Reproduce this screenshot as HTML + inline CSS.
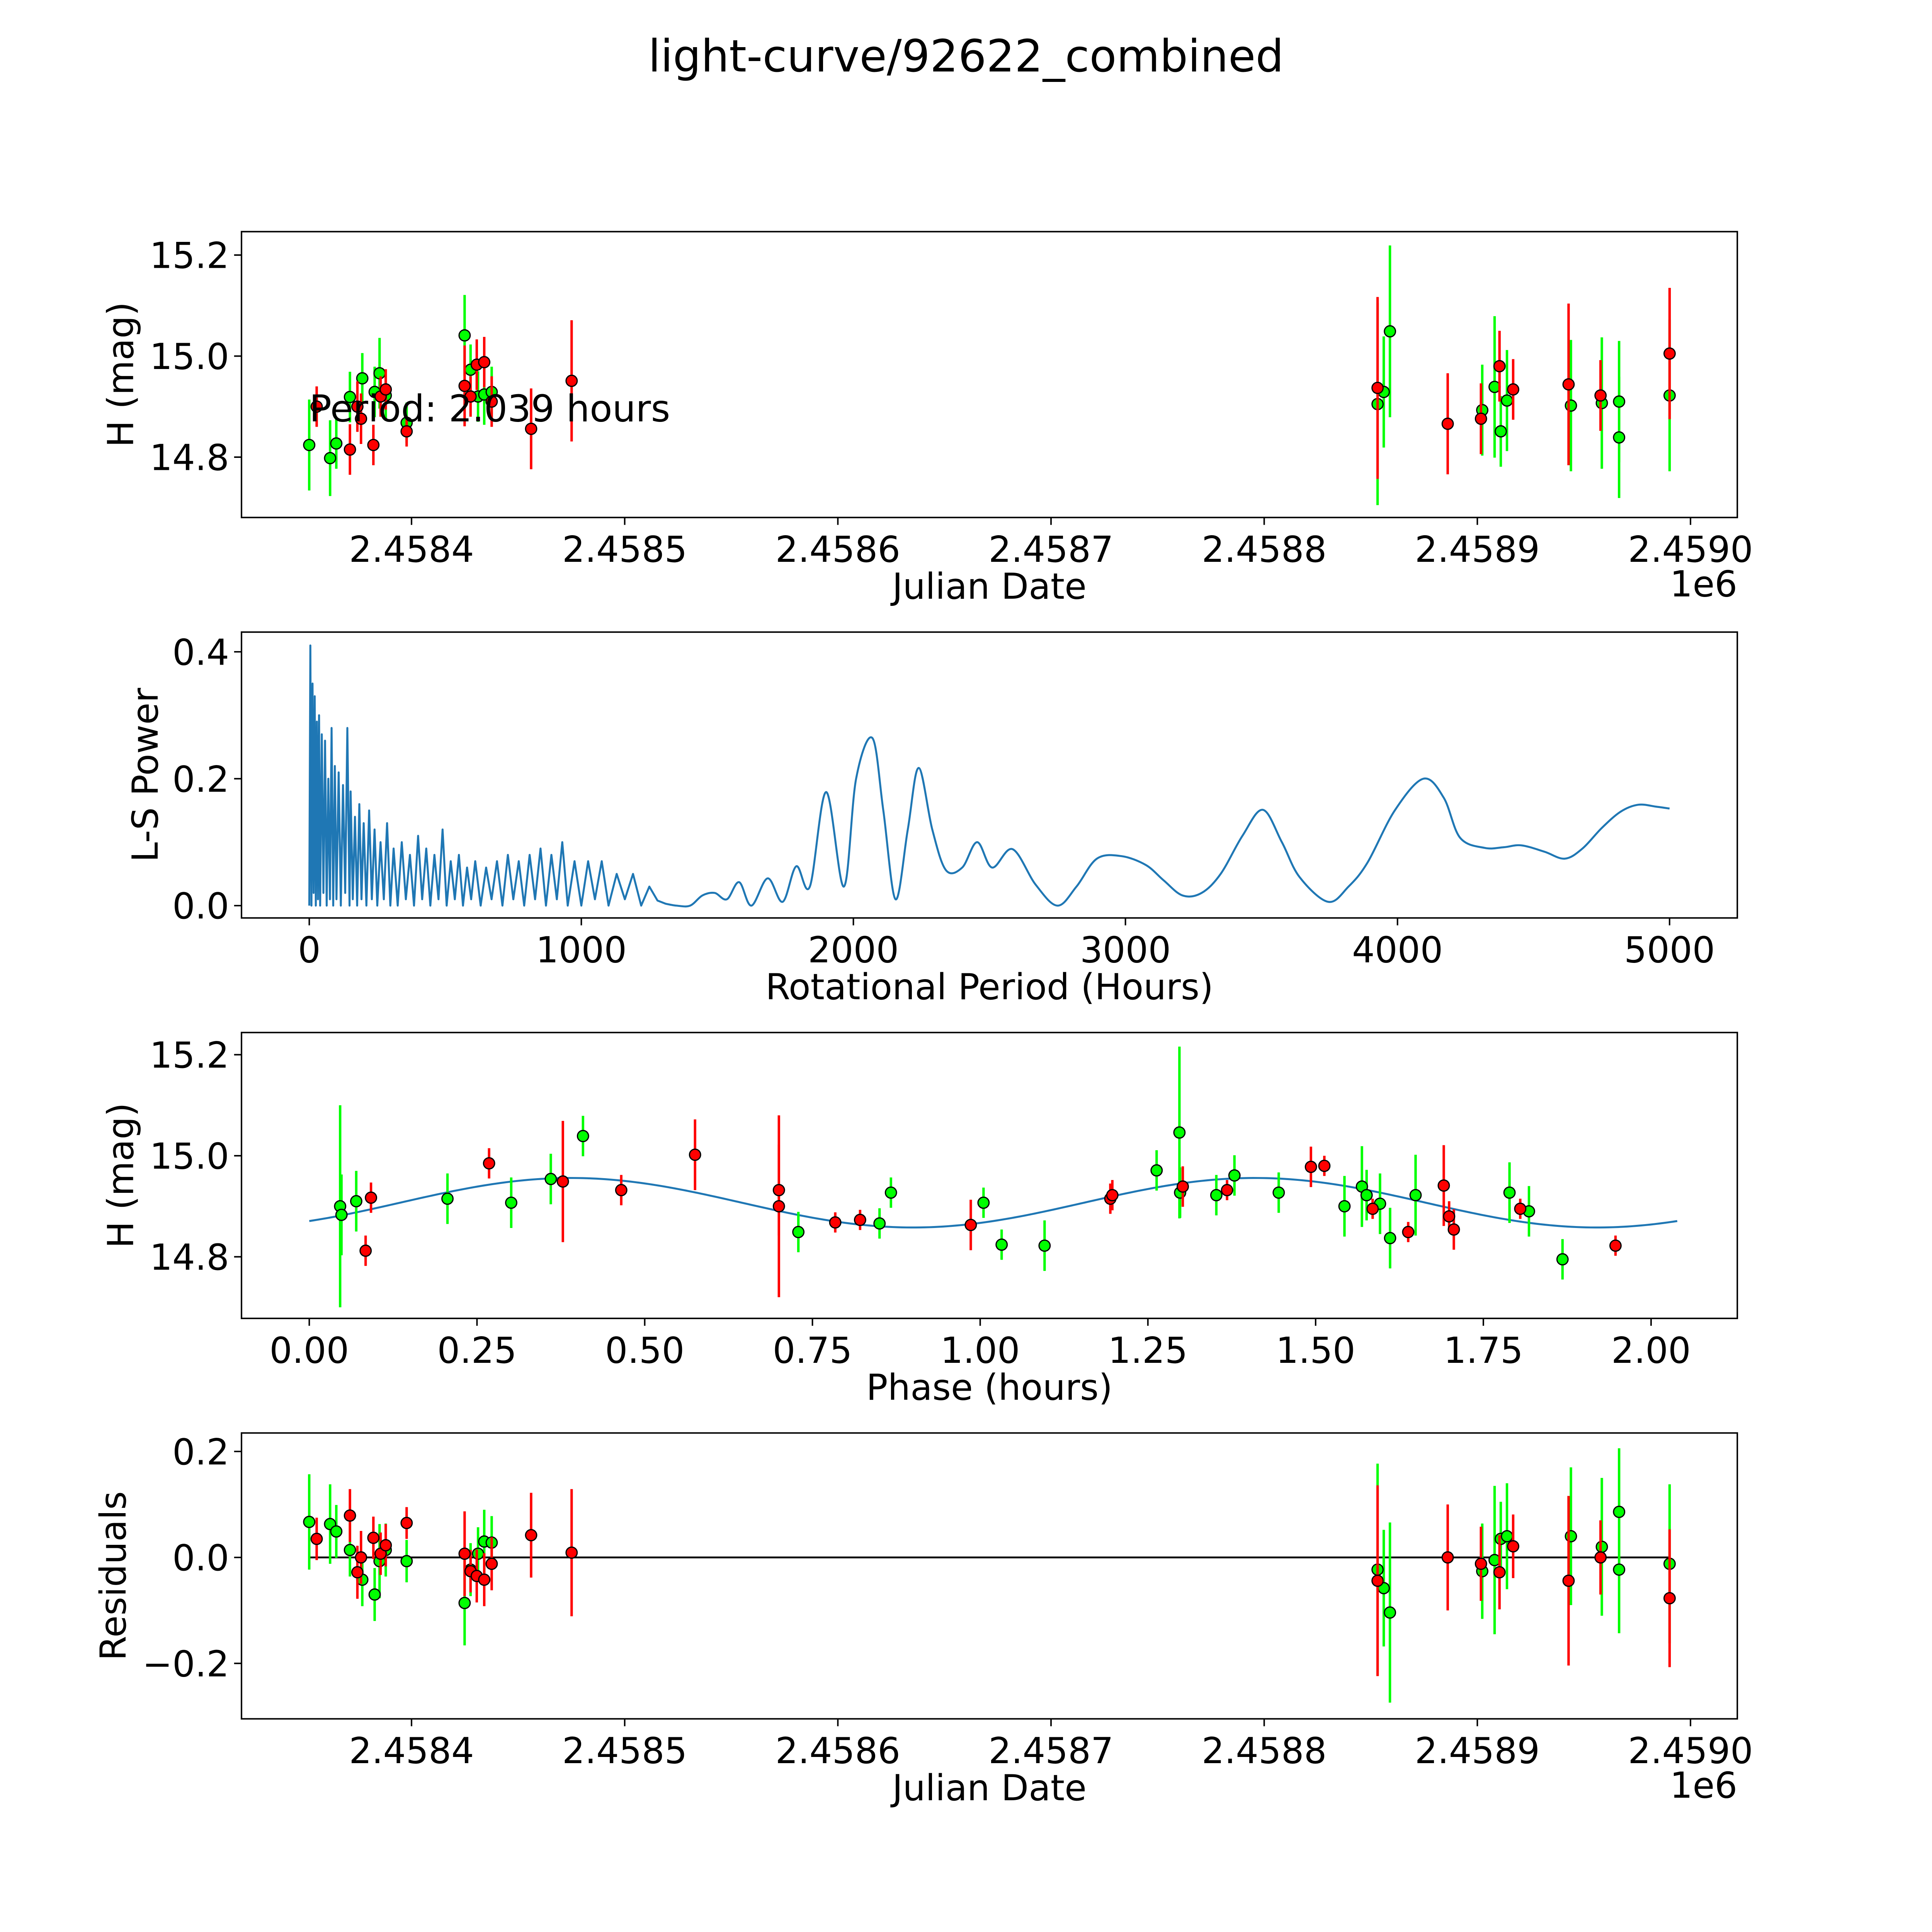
<!DOCTYPE html>
<html><head><meta charset="utf-8">
<style>
html,body{margin:0;padding:0;background:#fff;width:100%;height:100%;overflow:hidden;}
svg{display:block;position:fixed;left:0;top:0;width:100vw;height:100vh;}
text{font-family:"DejaVu Sans","Liberation Sans",sans-serif;fill:#000;}
</style></head>
<body>
<svg id="fig" viewBox="0 0 1568 1568" preserveAspectRatio="none" xmlns="http://www.w3.org/2000/svg">
<rect width="1568" height="1568" fill="#fff"/>
<text x="784" y="58" font-size="36" text-anchor="middle">light-curve/92622_combined</text>
</svg>
<script>
// ---- Data (Julian Date offsets from 2458000) ----
const greenJd = [352,361.8,364.7,371.1,376.9,382.7,385,387.9,397.7,424.9,427.7,431.2,434.1,437.6,853.2,856.1,859,902.3,908.1,911,913.9,943.9,958.4,966.5,966.5,990.2];
const greenMag = [14.824,14.798,14.827,14.919,14.956,14.929,14.966,14.922,14.868,15.041,14.973,14.920,14.924,14.929,14.905,14.929,15.049,14.893,14.939,14.851,14.912,14.902,14.907,14.910,14.839,14.922];
const greenErr = [0.09,0.075,0.05,0.05,0.05,0.05,0.07,0.05,0.04,0.08,0.05,0.05,0.06,0.05,0.2,0.11,0.17,0.09,0.14,0.07,0.1,0.13,0.13,0.12,0.12,0.15];
const greenResid = [0.067,0.063,0.049,0.014,-0.042,-0.07,-0.007,0.014,-0.007,-0.086,-0.023,0.007,0.030,0.028,-0.023,-0.058,-0.104,-0.026,-0.005,0.035,0.040,0.040,0.020,0.086,-0.023,-0.012];
const redJd = [355.5,371.1,374.6,376.3,382.1,385.5,387.9,397.7,424.9,427.7,430.6,434.1,437.6,456.1,475.1,853.2,886.1,901.7,910.4,916.8,942.8,957.8,990.2];
const redMag = [14.9,14.815,14.9,14.876,14.824,14.92,14.934,14.851,14.941,14.92,14.983,14.988,14.910,14.856,14.951,14.937,14.866,14.876,14.980,14.934,14.944,14.922,15.005];
const redErr = [0.04,0.05,0.05,0.05,0.04,0.04,0.04,0.03,0.08,0.04,0.05,0.05,0.05,0.08,0.12,0.18,0.1,0.07,0.07,0.06,0.16,0.07,0.13];
const redResid = [0.035,0.079,-0.028,0.0,0.037,0.007,0.023,0.065,0.007,-0.026,-0.035,-0.042,-0.012,0.042,0.009,-0.044,0.0,-0.012,-0.028,0.021,-0.044,0.0,-0.077];
// phase-folded
const greenPhase = [0.046,0.048,0.070,0.206,0.301,0.360,0.408,0.729,0.850,0.867,1.005,1.032,1.096,1.263,1.297,1.298,1.352,1.379,1.445,1.543,1.569,1.576,1.596,1.611,1.649,1.789,1.818,1.868];
const greenPhaseMag = [14.900,14.883,14.910,14.915,14.907,14.954,15.039,14.849,14.866,14.927,14.907,14.824,14.822,14.971,15.046,14.927,14.922,14.961,14.927,14.900,14.939,14.922,14.905,14.837,14.922,14.927,14.890,14.795];
const greenPhaseErr = [0.2,0.08,0.06,0.05,0.05,0.05,0.04,0.04,0.03,0.03,0.03,0.03,0.05,0.04,0.17,0.05,0.04,0.04,0.04,0.06,0.08,0.05,0.06,0.06,0.08,0.06,0.05,0.04];
const redPhase = [0.092,0.084,0.268,0.378,0.465,0.575,0.700,0.700,0.784,0.821,0.986,1.194,1.197,1.302,1.368,1.493,1.513,1.585,1.638,1.691,1.699,1.706,1.805,1.947];
const redPhaseMag = [14.917,14.812,14.985,14.949,14.932,15.002,14.932,14.900,14.868,14.873,14.863,14.915,14.922,14.939,14.932,14.978,14.980,14.895,14.849,14.941,14.880,14.854,14.895,14.822];
const redPhaseErr = [0.03,0.03,0.03,0.12,0.03,0.07,0.09,0.18,0.02,0.02,0.05,0.03,0.03,0.04,0.02,0.04,0.02,0.02,0.02,0.08,0.03,0.04,0.02,0.02];
const modelPeriod = 2.039, modelMean = 14.907, modelAmp = 0.049, modelPeak = 0.39;
// periodogram
const pgPeriod = [0,4,8,12,16,20,24,28,32,36,40,46,52,58,64,70,76,82,88,94,100,108,116,124,132,140,148,152,160,168,176,184,192,200,210,220,230,240,250,262,274,286,298,310,325,340,355,370,385,400,415,430,445,460,475,490,505,520,535,550,565,580,595,610,630,650,670,690,710,730,750,770,790,810,830,850,870,890,910,930,950,975,1000,1025,1050,1075,1100,1130,1160,1190,1220,1250,1280,1310,1350,1400,1445,1490,1535,1580,1625,1685,1740,1790,1840,1900,1965,2010,2070,2110,2155,2200,2240,2290,2340,2400,2455,2510,2585,2670,2750,2820,2895,2985,3075,3140,3210,3280,3350,3430,3505,3575,3640,3745,3820,3890,3990,4095,4170,4230,4320,4390,4455,4540,4615,4680,4750,4820,4885,4950,5000];
const pgPower = [0,0.41,0,0.35,0.02,0.33,0,0.29,0.01,0.3,0,0.27,0.02,0.26,0,0.2,0.01,0.28,0,0.22,0.01,0.21,0,0.19,0.02,0.28,0,0.18,0.01,0.14,0,0.16,0.01,0.13,0,0.15,0.01,0.12,0,0.1,0.01,0.13,0,0.09,0,0.1,0.01,0.08,0,0.11,0.01,0.09,0,0.08,0.01,0.12,0,0.07,0.01,0.08,0,0.06,0.01,0.07,0,0.06,0.01,0.07,0,0.08,0.01,0.07,0,0.08,0.01,0.09,0,0.08,0.01,0.1,0,0.07,0,0.07,0.01,0.07,0,0.05,0.01,0.05,0,0.03,0.008,0.003,0.0,0.0,0.016,0.02,0.01,0.037,0,0.043,0.006,0.062,0.03,0.179,0.03,0.2,0.264,0.15,0.01,0.12,0.217,0.12,0.056,0.06,0.10,0.06,0.089,0.033,0.0,0.03,0.074,0.078,0.064,0.04,0.016,0.02,0.05,0.11,0.151,0.1,0.045,0.006,0.03,0.068,0.15,0.2,0.17,0.107,0.091,0.092,0.095,0.085,0.074,0.09,0.122,0.148,0.159,0.156,0.153];

const svg = document.getElementById('fig');
const NS = 'http://www.w3.org/2000/svg';
function mk(tag, attrs, parent){const e=document.createElementNS(NS,tag);for(const k in attrs)e.setAttribute(k,attrs[k]);(parent||svg).appendChild(e);return e;}
function lin(d0,d1,r0,r1){return v=>r0+(v-d0)*(r1-r0)/(d1-d0);}

const L=196,R=1410,FS=29;
function frame(top,bot,name){
  const r=mk('rect',{x:L,y:top,width:R-L,height:bot-top,fill:'none',stroke:'#000','stroke-width':1.2});
  
  
}
function xtick(x,bot,label,name){
  mk('line',{x1:x,y1:bot,x2:x,y2:bot+6,stroke:'#000','stroke-width':1.2});
  const t=mk('text',{x:x,y:bot+36,'font-size':FS,'text-anchor':'middle'});t.textContent=label;
  
  
}
function ytick(y,label,name){
  mk('line',{x1:L-6,y1:y,x2:L,y2:y,stroke:'#000','stroke-width':1.2});
  const t=mk('text',{x:L-10,y:y+10.5,'font-size':FS,'text-anchor':'end'});t.textContent=label;
  
  
}
function label(x,y,txt,rot,name){
  const t=mk('text',{x:x,y:y,'font-size':FS,'text-anchor':'middle'});
  if(rot)t.setAttribute('transform','rotate(-90 '+x+' '+y+')');
  t.textContent=txt;
  
  
}
function errpts(xs,ys,es,sx,sy,col,name){
  const g=mk('g',{});
  
  
  for(let i=0;i<xs.length;i++){
    const x=sx(xs[i]);
    mk('line',{x1:x,y1:sy(ys[i]-es[i]),x2:x,y2:sy(ys[i]+es[i]),stroke:col,'stroke-width':2},g);
  }
  for(let i=0;i<xs.length;i++){
    const c=mk('circle',{cx:sx(xs[i]),cy:sy(ys[i]),r:4.5,fill:col,stroke:'#000','stroke-width':1},g);
    
    
  }
}
const jdTicks=[400,500,600,700,800,900,1000];
const jdLabels=['2.4584','2.4585','2.4586','2.4587','2.4588','2.4589','2.4590'];

// Panel 1
{
  const top=188,bot=420;
  const sx=lin(400,500,334,507), sy=lin(15.0,15.2,289,207);
  frame(top,bot,'lightcurve-axes');
  jdTicks.forEach((v,i)=>xtick(sx(v),bot,jdLabels[i],'x-tick-label'));
  [14.8,15.0,15.2].forEach(v=>ytick(sy(v),v.toFixed(1),'y-tick-label'));
  errpts(greenJd,greenMag,greenErr,sx,sy,'#00ff00','green-series');
  errpts(redJd,redMag,redErr,sx,sy,'#ff0000','red-series');
  label(803,486,'Julian Date',false,'x-axis-title');
  const e=mk('text',{x:1410,y:484,'font-size':FS,'text-anchor':'end'});e.textContent='1e6';
  
  
  label(108,304,'H (mag)',true,'y-axis-title');
  const p=mk('text',{x:251,y:342,'font-size':30});p.textContent='Period: 2.039 hours';
  
  
}
// Panel 2
{
  const top=513,bot=745;
  const sx=lin(0,5000,251,1355), sy=lin(0,0.4,735,529);
  frame(top,bot,'periodogram-axes');
  [0,1000,2000,3000,4000,5000].forEach(v=>xtick(sx(v),bot,String(v),'x-tick-label'));
  [0,0.2,0.4].forEach(v=>ytick(sy(v),v.toFixed(1),'y-tick-label'));
  const pts=pgPeriod.map((p,i)=>[sx(p),sy(pgPower[i])]);
  let split=pgPeriod.findIndex(p=>p>=1310);
  let d='M'+pts[0][0].toFixed(2)+' '+pts[0][1].toFixed(2);
  for(let i=1;i<=split;i++)d+='L'+pts[i][0].toFixed(2)+' '+pts[i][1].toFixed(2);
  for(let i=split;i<pts.length-1;i++){
    const p0=pts[Math.max(i-1,split)],p1=pts[i],p2=pts[i+1],p3=pts[Math.min(i+2,pts.length-1)];
    const c1=[p1[0]+(p2[0]-p0[0])/6,p1[1]+(p2[1]-p0[1])/6];
    const c2=[p2[0]-(p3[0]-p1[0])/6,p2[1]-(p3[1]-p1[1])/6];
    d+='C'+c1[0].toFixed(2)+' '+c1[1].toFixed(2)+' '+c2[0].toFixed(2)+' '+c2[1].toFixed(2)+' '+p2[0].toFixed(2)+' '+p2[1].toFixed(2);
  }
  const pl=mk('path',{d:d,fill:'none',stroke:'#1f77b4','stroke-width':1.6,'stroke-linejoin':'round'});
  
  
  label(803,811,'Rotational Period (Hours)',false,'x-axis-title');
  label(128,629,'L-S Power',true,'y-axis-title');
}
// Panel 3
{
  const top=838,bot=1070;
  const sx=lin(0,2,251,1340), sy=lin(15.0,15.2,938,856);
  frame(top,bot,'phase-axes');
  [0,0.25,0.5,0.75,1,1.25,1.5,1.75,2].forEach(v=>xtick(sx(v),bot,v.toFixed(2),'x-tick-label'));
  [14.8,15.0,15.2].forEach(v=>ytick(sy(v),v.toFixed(1),'y-tick-label'));
  let d='';
  const N=300;
  for(let i=0;i<=N;i++){const p=modelPeriod*i/N;const m=modelMean+modelAmp*Math.cos(2*Math.PI*(p-modelPeak)/(modelPeriod/2));d+=(i?'L':'M')+sx(p).toFixed(2)+' '+sy(m).toFixed(2);}
  const c=mk('path',{d:d,fill:'none',stroke:'#1f77b4','stroke-width':1.6});
  
  
  errpts(greenPhase,greenPhaseMag,greenPhaseErr,sx,sy,'#00ff00','green-phase-series');
  errpts(redPhase,redPhaseMag,redPhaseErr,sx,sy,'#ff0000','red-phase-series');
  label(803,1136,'Phase (hours)',false,'x-axis-title');
  label(108,954,'H (mag)',true,'y-axis-title');
}
// Panel 4
{
  const top=1163,bot=1395;
  const sx=lin(400,500,334,507), sy=lin(0,0.2,1264,1178);
  frame(top,bot,'residuals-axes');
  jdTicks.forEach((v,i)=>xtick(sx(v),bot,jdLabels[i],'x-tick-label'));
  [[-0.2,'\u22120.2'],[0,'0.0'],[0.2,'0.2']].forEach(a=>ytick(sy(a[0]),a[1],'y-tick-label'));
  const z=mk('line',{x1:sx(352),y1:sy(0),x2:sx(990.2),y2:sy(0),stroke:'#000','stroke-width':1.5});
  
  
  errpts(greenJd,greenResid,greenErr,sx,sy,'#00ff00','green-residuals');
  errpts(redJd,redResid,redErr,sx,sy,'#ff0000','red-residuals');
  label(803,1461,'Julian Date',false,'x-axis-title');
  const e=mk('text',{x:1410,y:1459,'font-size':FS,'text-anchor':'end'});e.textContent='1e6';
  
  
  label(102,1279,'Residuals',true,'y-axis-title');
}
</script>
</body></html>
